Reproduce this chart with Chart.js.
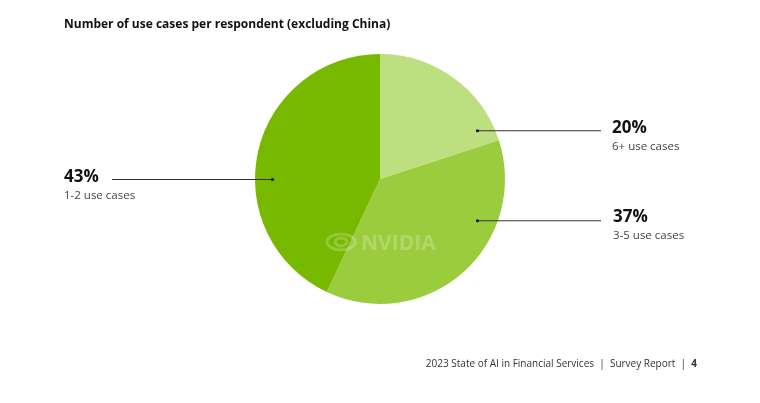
<!DOCTYPE html>
<html>
<head>
<meta charset="utf-8">
<script src="https://cdn.jsdelivr.net/npm/chart.js@4/dist/chart.umd.min.js"></script>
<style>
html,body{margin:0;padding:0;background:#fff;}
#wrap{position:relative;width:760px;height:403px;}
</style>
</head>
<body>
<div id="wrap"><canvas id="c" width="760" height="403"></canvas></div>
<script>
const title = "Number of use cases per respondent (excluding China)";
const categories = ["6+ use cases", "3-5 use cases", "1-2 use cases"];
const values = [20, 37, 43];
const colors = ["#bedf80", "#9bcc3e", "#76b900"];
const footer = ["2023 State of AI in Financial Services  |  Survey Report  |  ", "4"];

const FONT = "'Open Sans', 'Liberation Sans', sans-serif";

const labelPlugin = {
  id: 'labels',
  afterDraw(chart) {
    const ctx = chart.ctx;
    const meta = chart.getDatasetMeta(0);
    const arc0 = meta.data[0];
    const cx = arc0.x, cy = arc0.y, R = arc0.outerRadius;
    ctx.save();
    // title
    ctx.fillStyle = '#111';
    ctx.font = "bold 12px " + FONT;
    ctx.textBaseline = 'alphabetic';
    ctx.textAlign = 'left';
    ctx.fillText(title, 64, 28);

    // watermark
    ctx.globalAlpha = 0.22;
    ctx.fillStyle = '#ffffff';
    ctx.strokeStyle = '#ffffff';
    ctx.lineWidth = 3;
    ctx.beginPath();
    ctx.ellipse(341, 242, 14, 8, 0, 0, Math.PI * 2);
    ctx.stroke();
    ctx.beginPath();
    ctx.ellipse(341, 242, 6, 4, 0, 0, Math.PI * 2);
    ctx.stroke();
    ctx.font = "bold 21px " + FONT;
    ctx.fillText("NVIDIA", 361, 250);
    ctx.globalAlpha = 1;

    // leader lines & labels
    const specs = [
      {i: 0, dx: 0.78, dy: -0.39, x2: 601, tx: 612, ty: 133},
      {i: 1, dx: 0.78, dy: 0.33, x2: 601, tx: 613, ty: 222},
      {i: 2, dx: -0.86, dy: 0.0, x2: 112, tx: 64, ty: 182}
    ];
    specs.forEach(s => {
      const px = cx + s.dx * R, py = cy + s.dy * R;
      ctx.strokeStyle = '#333';
      ctx.lineWidth = 1;
      ctx.beginPath();
      ctx.moveTo(px, py + 0.5);
      ctx.lineTo(s.x2, py + 0.5);
      ctx.stroke();
      ctx.fillStyle = '#111';
      ctx.beginPath();
      ctx.arc(px, py + 0.5, 1.6, 0, Math.PI * 2);
      ctx.fill();
      ctx.textAlign = 'left';
      ctx.font = "bold 17px " + FONT;
      ctx.fillStyle = '#111';
      ctx.fillText(values[s.i] + "%", s.tx, s.ty);
      ctx.font = "11.5px " + FONT;
      ctx.fillStyle = '#444';
      ctx.fillText(categories[s.i], s.tx, s.ty + 17);
    });

    // footer
    ctx.font = "10px " + FONT;
    ctx.fillStyle = '#333';
    ctx.textAlign = 'left';
    const w1 = ctx.measureText(footer[0]).width;
    ctx.font = "bold 10px " + FONT;
    const w2 = ctx.measureText(footer[1]).width;
    const x0 = 697 - w1 - w2;
    ctx.font = "10px " + FONT;
    ctx.fillText(footer[0], x0, 367);
    ctx.font = "bold 10px " + FONT;
    ctx.fillText(footer[1], x0 + w1, 367);
    ctx.restore();
  }
};

new Chart(document.getElementById('c'), {
  type: 'pie',
  data: {
    labels: categories,
    datasets: [{
      data: values,
      backgroundColor: colors,
      borderWidth: 0
    }]
  },
  options: {
    responsive: false,
    animation: false,
    layout: {padding: {top: 54, bottom: 99, left: 255, right: 255}},
    plugins: {legend: {display: false}, tooltip: {enabled: false}}
  },
  plugins: [labelPlugin]
});
</script>
</body>
</html>
